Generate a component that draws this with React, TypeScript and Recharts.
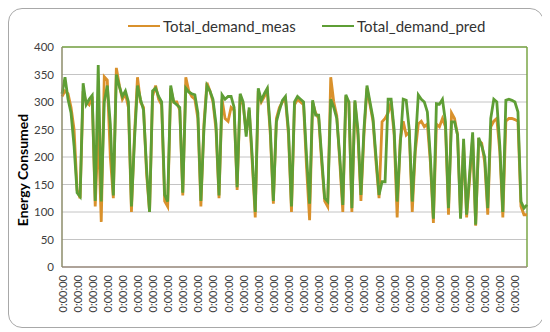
import { LineChart, Line, XAxis, YAxis, CartesianGrid, ReferenceLine } from 'recharts';

// Total demand, measured vs predicted (one value per sample)
const measured = [
    310, 320, 315, 290, 250, 140, 125, 320, 300, 295, 310, 110, 250, 82, 346, 340, 200, 125, 362, 330,
    305, 315, 290, 100, 240, 345, 300, 290, 170, 100, 310, 330, 305, 295, 120, 110, 325, 300, 300, 285,
    130, 345, 320, 310, 305, 270, 110, 260, 335, 320, 300, 250, 125, 305, 270, 265, 290, 285, 140, 310,
    295, 245, 285, 190, 90, 320, 300, 310, 320, 240, 115, 270, 290, 300, 305, 240, 100, 295, 305, 300,
    295, 180, 85, 300, 280, 270, 190, 120, 110, 345, 300, 275, 190, 100, 305, 300, 100, 300, 240, 120,
    240, 325, 295, 265, 190, 125, 264, 270, 280, 300, 240, 90, 230, 265, 240, 245, 100, 210, 260, 265,
    255, 260, 190, 80, 260, 255, 270, 255, 95, 280, 270, 240, 90, 225, 90, 160, 235, 75, 230, 225,
    190, 95, 255, 265, 270, 210, 90, 265, 270, 270, 268, 265, 110, 95, 95,
];

const predicted = [
    315, 345, 305, 280, 220, 135, 128, 334, 295, 305, 312, 120, 367, 119, 300, 330, 260, 130, 350, 328,
    310, 320, 300, 110, 230, 330, 305, 285, 180, 100, 320, 325, 310, 300, 131, 119, 330, 300, 295, 290,
    135, 325, 318, 315, 313, 280, 120, 250, 330, 320, 305, 260, 130, 313, 305, 310, 310, 290, 145, 315,
    300, 237, 290, 200, 100, 325, 303, 315, 325, 250, 120, 264, 285, 303, 310, 250, 110, 300, 310, 305,
    300, 200, 115, 303, 276, 276, 200, 125, 119, 305, 290, 270, 200, 113, 313, 300, 107, 303, 250, 131,
    250, 330, 300, 270, 200, 131, 155, 155, 305, 305, 250, 119, 220, 305, 303, 250, 119, 220, 313, 305,
    300, 282, 200, 88, 297, 296, 305, 264, 107, 264, 264, 240, 88, 233, 95, 170, 245, 77, 235, 220,
    200, 107, 270, 305, 300, 220, 100, 303, 305, 303, 300, 282, 119, 107, 113,
];

const yTicks = [0, 50, 100, 150, 200, 250, 300, 350, 400];
const xTickIdx = [
    0, 5, 10, 15, 20, 25, 30, 35, 40, 45, 50, 55, 60, 65, 70, 75, 80, 85, 90, 95,
    100, 105, 110, 115, 120, 125, 130, 135, 140, 145, 150,
];
const xTickLabel = '0:00:00';

const data = measured.map((m, i) => ({
    idx: i,
    Total_demand_meas: m,
    Total_demand_pred: predicted[i],
}));

const COLORS = {
    meas: '#d9912c',
    pred: '#5e9e35',
    grid: '#c4c4c4',
    frame: '#7aa646',
    text: '#404040',
};

const FONT = 'Lato, "Open Sans", sans-serif';

function XTick(props: any) {
    const { x, y } = props;
    return (
        <text
            x={x}
            y={y}
            transform={`rotate(-90, ${x}, ${y})`}
            textAnchor="end"
            dominantBaseline="central"
            fontSize={11}
            fontFamily={FONT}
            fill={COLORS.text}
        >
            {xTickLabel}
        </text>
    );
}

function LegendItem({ color, label, left }: { color: string; label: string; left: number }) {
    return (
        <div style={{ position: 'absolute', left, top: 8, display: 'flex', alignItems: 'center' }}>
            <div style={{ width: 32, height: 2.5, background: color, marginRight: 3 }} />
            <span style={{ fontSize: 15, color: '#333', fontFamily: FONT }}>{label}</span>
        </div>
    );
}

export default function App() {
    return (
        <div
            style={{
                position: 'relative',
                width: 534,
                height: 318,
                border: '1px solid #a8a8a8',
                borderRadius: 14,
                background: '#fff',
            }}
        >
            <LegendItem color={COLORS.meas} label="Total_demand_meas" left={119} />
            <LegendItem color={COLORS.pred} label="Total_demand_pred" left={313} />
            <div
                style={{
                    position: 'absolute',
                    left: 13,
                    top: 161,
                    transform: 'translate(-50%, -50%) rotate(-90deg)',
                    fontSize: 14,
                    fontWeight: 'bold',
                    fontFamily: FONT,
                    whiteSpace: 'nowrap',
                    color: '#000',
                }}
            >
                Energy Consumed
            </div>
            <LineChart
                width={534}
                height={318}
                data={data}
                margin={{ top: 38, right: 16, left: 0, bottom: 5 }}
            >
                <CartesianGrid vertical={false} stroke={COLORS.grid} />
                <XAxis
                    type="number"
                    dataKey="idx"
                    domain={[0, measured.length - 1]}
                    ticks={xTickIdx}
                    interval={0}
                    tick={<XTick />}
                    tickLine={false}
                    axisLine={{ stroke: '#9c8e80', strokeWidth: 1.5 }}
                    height={55}
                />
                <YAxis
                    domain={[0, 400]}
                    ticks={yTicks}
                    width={53}
                    tickLine={false}
                    axisLine={{ stroke: '#8c8c6a', strokeWidth: 1.5 }}
                    tick={{ fill: COLORS.text, fontSize: 11.5, fontFamily: FONT }}
                />
                <ReferenceLine y={400} stroke={COLORS.frame} strokeWidth={1.5} />
                <ReferenceLine x={measured.length - 1} stroke={COLORS.frame} strokeWidth={1.5} />
                <Line
                    type="linear"
                    dataKey="Total_demand_meas"
                    stroke={COLORS.meas}
                    strokeWidth={2.8}
                    dot={false}
                    isAnimationActive={false}
                />
                <Line
                    type="linear"
                    dataKey="Total_demand_pred"
                    stroke={COLORS.pred}
                    strokeWidth={2.8}
                    dot={false}
                    isAnimationActive={false}
                />
            </LineChart>
        </div>
    );
}
